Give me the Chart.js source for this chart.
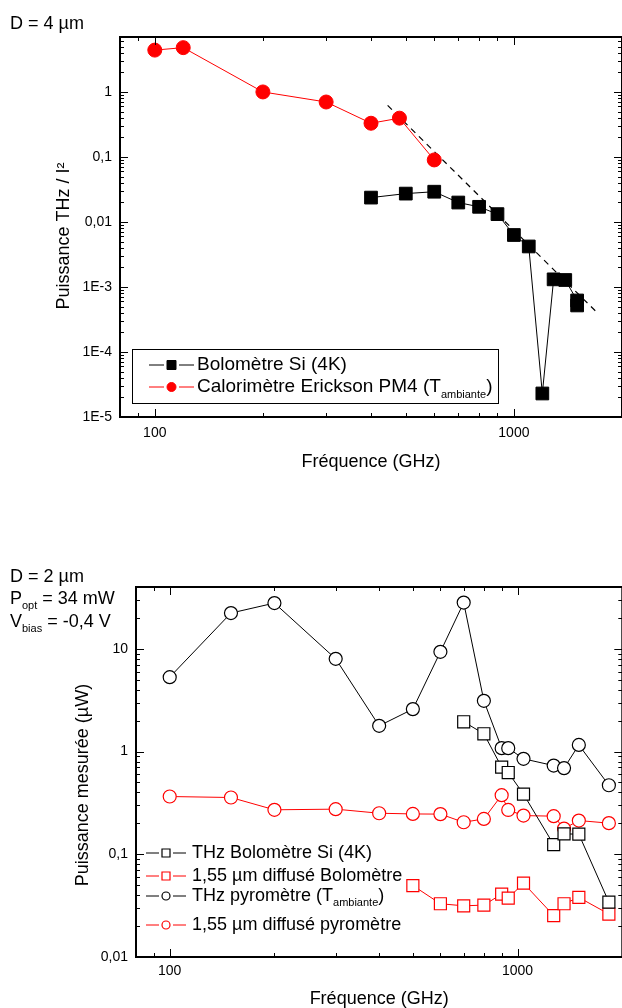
<!DOCTYPE html>
<html>
<head>
<meta charset="utf-8">
<script src="https://cdn.jsdelivr.net/npm/chart.js@4/dist/chart.umd.min.js"></script>
<style>
  html, body { margin: 0; padding: 0; width: 622px; height: 1008px; overflow: hidden; background: #fff; }
  canvas { position: absolute; left: 0; }
  #topChart { top: 0; }
  #bottomChart { top: 500px; }
</style>
</head>
<body>
<canvas id="topChart" width="632" height="500"></canvas>
<canvas id="bottomChart" width="632" height="508"></canvas>
<script>
const FONT = '"Liberation Sans", Arial, sans-serif';

// ---- top chart (D = 4 µm) ----
const bolo4kFreq  = [400, 500, 600, 700, 800, 900, 1000, 1100, 1200, 1290, 1390, 1500, 1500];
const bolo4kPower = [0.0237, 0.0273, 0.0292, 0.0199, 0.0171, 0.0132, 0.0063, 0.0042, 0.000023, 0.00131, 0.00128, 0.00062, 0.00052];
const caloFreq  = [100, 120, 200, 300, 400, 480, 600];
const caloPower = [4.4, 4.8, 1.0, 0.70, 0.33, 0.395, 0.09];
const fitFreq  = [445, 1700];
const fitPower = [0.62, 0.00041];
const topYTicks  = [1e-5, 1e-4, 1e-3, 0.01, 0.1, 1];
const topYLabels = ['1E-5', '1E-4', '1E-3', '0,01', '0,1', '1'];

// ---- bottom chart (D = 2 µm) ----
const mesFreq = [100, 150, 200, 300, 400, 500, 600, 700, 800, 900, 940, 1040, 1270, 1360, 1500, 1830];
const thzPyro = [5.3, 22.3, 27.9, 8.0, 1.78, 2.59, 9.35, 28.2, 3.12, 1.08, 1.08, 0.85, 0.73, 0.69, 1.16, 0.47];
const irPyro  = [0.365, 0.357, 0.271, 0.275, 0.251, 0.247, 0.246, 0.205, 0.221, 0.376, 0.27, 0.238, 0.235, 0.178, 0.213, 0.201];
const boloFreq = [700, 800, 900, 940, 1040, 1270, 1360, 1500, 1830];
const thzBolo  = [1.95, 1.49, 0.705, 0.625, 0.385, 0.124, 0.158, 0.157, 0.0342];
const irBoloFreq = [500, 600, 700, 800, 900, 940, 1040, 1270, 1360, 1500, 1830];
const irBolo     = [0.0496, 0.033, 0.0315, 0.032, 0.041, 0.0374, 0.0523, 0.0253, 0.033, 0.038, 0.0262];
const bottomYTicks  = [0.01, 0.1, 1, 10];
const bottomYLabels = ['0,01', '0,1', '1', '10'];

const freqTicks  = [100, 1000];
const freqLabels = ['100', '1000'];

function points(xs, ys) {
  return xs.map((x, i) => ({ x: x, y: ys[i] }));
}

function labelFor(v, ticks, labels) {
  const i = ticks.findIndex(t => Math.abs(v / t - 1) < 1e-6);
  return i < 0 ? '' : labels[i];
}

// text with _{sub} parts
function drawRich(ctx, text, x, y, size) {
  const parts = text.split(/_\{([^}]*)\}/);
  ctx.textBaseline = 'middle';
  ctx.textAlign = 'left';
  let cx = x;
  parts.forEach((p, i) => {
    if (!p) return;
    if (i % 2) {
      ctx.font = Math.round(size * 0.6) + 'px ' + FONT;
      ctx.fillText(p, cx, y + size * 0.4);
    } else {
      ctx.font = size + 'px ' + FONT;
      ctx.fillText(p, cx, y);
    }
    cx += ctx.measureText(p).width;
  });
}

function drawMarker(ctx, ds, x, y, r) {
  ctx.fillStyle = ds.pointBackgroundColor;
  ctx.strokeStyle = ds.borderColor;
  ctx.lineWidth = ds.pointBorderWidth;
  ctx.beginPath();
  if (ds.pointStyle === 'rect') ctx.rect(x - r, y - r, 2 * r, 2 * r);
  else ctx.arc(x, y, r, 0, Math.PI * 2);
  ctx.fill();
  ctx.stroke();
}

// frame with inward ticks, custom legend and notes (Origin look)
function makeDecor(cfg) {
  return {
    id: 'decor',
    afterDraw(chart) {
      const { ctx, chartArea: a, scales } = chart;
      const lg = Math.log10;
      const isMajor = v => Math.abs(lg(v) - Math.round(lg(v))) < 1e-6;
      const isWhole = v => {
        const s = v / Math.pow(10, Math.floor(lg(v) + 1e-9));
        return Math.abs(s - Math.round(s)) < 1e-6;
      };
      ctx.save();
      ctx.strokeStyle = '#000';
      ctx.lineWidth = 1;
      ctx.beginPath();
      scales.x.ticks.forEach(t => {
        if (!isWhole(t.value)) return;
        const px = Math.round(scales.x.getPixelForValue(t.value)) + 0.5;
        const len = isMajor(t.value) ? 8 : 4;
        ctx.moveTo(px, a.bottom); ctx.lineTo(px, a.bottom - len);
        ctx.moveTo(px, a.top); ctx.lineTo(px, a.top + len);
      });
      scales.y.ticks.forEach(t => {
        if (!isWhole(t.value)) return;
        const py = Math.round(scales.y.getPixelForValue(t.value)) + 0.5;
        const len = isMajor(t.value) ? 8 : 4;
        ctx.moveTo(a.left, py); ctx.lineTo(a.left + len, py);
        ctx.moveTo(a.right, py); ctx.lineTo(a.right - len, py);
      });
      ctx.stroke();
      ctx.lineWidth = 2;
      ctx.strokeRect(a.left, a.top, a.right - a.left, a.bottom - a.top);

      // legend
      const L = cfg.legend;
      if (L.box) {
        ctx.fillStyle = '#fff';
        ctx.lineWidth = 1;
        ctx.fillRect(L.box[0], L.box[1], L.box[2] - L.box[0], L.box[3] - L.box[1]);
        ctx.strokeRect(L.box[0] + 0.5, L.box[1] + 0.5, L.box[2] - L.box[0], L.box[3] - L.box[1]);
      }
      L.order.forEach((di, k) => {
        const ds = chart.data.datasets[di];
        const y = L.rows[k];
        const mx = (L.line[0] + L.line[1]) / 2;
        ctx.strokeStyle = ds.borderColor;
        ctx.lineWidth = 1;
        ctx.beginPath();
        ctx.moveTo(L.line[0], y); ctx.lineTo(mx - L.r - 3, y);
        ctx.moveTo(mx + L.r + 3, y); ctx.lineTo(L.line[1], y);
        ctx.stroke();
        drawMarker(ctx, ds, mx, y, L.r);
        ctx.fillStyle = '#000';
        drawRich(ctx, ds.label, L.textX, y, L.size);
      });

      // notes and rotated y title
      ctx.fillStyle = '#000';
      cfg.notes.forEach(n => drawRich(ctx, n.text, n.x, n.y, 18));
      const t = cfg.yTitle;
      ctx.translate(t.x, t.y);
      ctx.rotate(-Math.PI / 2);
      ctx.font = '18px ' + FONT;
      ctx.textAlign = 'center';
      ctx.textBaseline = 'middle';
      ctx.fillText(t.text, 0, 0);
      ctx.restore();
    }
  };
}

function axes(yMin, yMax, yTicks, yLabels, yWidth, xHeight, xPad, titlePad) {
  return {
    x: {
      type: 'logarithmic', min: 80, max: 2000,
      grid: { display: false, drawTicks: false },
      border: { display: false },
      ticks: {
        autoSkip: false, maxRotation: 0, padding: xPad, color: '#000',
        font: { family: FONT, size: 14 },
        callback: v => labelFor(v, freqTicks, freqLabels)
      },
      title: {
        display: true, text: 'Fréquence (GHz)', color: '#000',
        font: { family: FONT, size: 18, lineHeight: 1 },
        padding: { top: 0, bottom: titlePad }
      },
      afterFit: s => { s.height = xHeight; }
    },
    y: {
      type: 'logarithmic', min: yMin, max: yMax,
      grid: { display: false, drawTicks: false },
      border: { display: false },
      ticks: {
        autoSkip: false, padding: 8, color: '#000',
        font: { family: FONT, size: 14 },
        callback: v => labelFor(v, yTicks, yLabels)
      },
      afterFit: s => { s.width = yWidth; }
    }
  };
}

const common = {
  responsive: false,
  animation: false,
  devicePixelRatio: 1,
  events: [],
  elements: { line: { tension: 0 } }
};

new Chart(document.getElementById('topChart'), {
  type: 'scatter',
  data: {
    datasets: [
      {
        label: 'Bolomètre Si (4K)', data: points(bolo4kFreq, bolo4kPower), showLine: true,
        borderColor: '#000', backgroundColor: '#000', pointBackgroundColor: '#000',
        borderWidth: 1, pointBorderWidth: 1, pointStyle: 'rect', pointRadius: 9
      },
      {
        label: 'Calorimètre Erickson PM4 (T_{ambiante})', data: points(caloFreq, caloPower), showLine: true,
        borderColor: '#ff0000', backgroundColor: '#ff0000', pointBackgroundColor: '#ff0000',
        borderWidth: 1, pointBorderWidth: 1, pointStyle: 'circle', pointRadius: 7
      },
      {
        label: 'fit', data: points(fitFreq, fitPower), showLine: true,
        borderColor: '#000', borderWidth: 1.2, borderDash: [6, 5], pointRadius: 0
      }
    ]
  },
  options: Object.assign({}, common, {
    layout: { padding: { top: 37, right: 6, bottom: 0, left: 0 } },
    scales: axes(1e-5, 7, topYTicks, topYLabels, 120, 83, 8, 29),
    plugins: { legend: { display: false }, tooltip: { enabled: false } }
  }),
  plugins: [makeDecor({
    legend: { box: [132, 349, 498, 403], order: [0, 1], rows: [365, 387], line: [149, 194], r: 4.5, textX: 197, size: 19 },
    notes: [{ text: 'D = 4 µm', x: 10, y: 24 }],
    yTitle: { text: 'Puissance THz / I²', x: 64, y: 236 }
  })]
});

new Chart(document.getElementById('bottomChart'), {
  type: 'scatter',
  data: {
    datasets: [
      {
        label: 'THz Bolomètre Si (4K)', data: points(boloFreq, thzBolo), showLine: true,
        borderColor: '#000', pointBackgroundColor: '#fff',
        borderWidth: 1, pointBorderWidth: 1.2, pointStyle: 'rect', pointRadius: 8.5
      },
      {
        label: '1,55 µm diffusé Bolomètre', data: points(irBoloFreq, irBolo), showLine: true,
        borderColor: '#ff0000', pointBackgroundColor: '#fff',
        borderWidth: 1, pointBorderWidth: 1.2, pointStyle: 'rect', pointRadius: 8.5
      },
      {
        label: 'THz pyromètre (T_{ambiante})', data: points(mesFreq, thzPyro), showLine: true,
        borderColor: '#000', pointBackgroundColor: '#fff',
        borderWidth: 1, pointBorderWidth: 1.2, pointStyle: 'circle', pointRadius: 6.5
      },
      {
        label: '1,55 µm diffusé pyromètre', data: points(mesFreq, irPyro), showLine: true,
        borderColor: '#ff0000', pointBackgroundColor: '#fff',
        borderWidth: 1, pointBorderWidth: 1.2, pointStyle: 'circle', pointRadius: 6.5
      }
    ]
  },
  options: Object.assign({}, common, {
    layout: { padding: { top: 87, right: 4, bottom: 0, left: 0 } },
    scales: axes(0.01, 40, bottomYTicks, bottomYLabels, 136, 51, 6, 0),
    plugins: { legend: { display: false }, tooltip: { enabled: false } }
  }),
  plugins: [makeDecor({
    legend: { box: null, order: [0, 1, 2, 3], rows: [353, 376, 396, 425], line: [146, 186], r: 4, textX: 192, size: 18 },
    notes: [
      { text: 'D = 2 µm', x: 10, y: 77 },
      { text: 'P_{opt} = 34 mW', x: 10, y: 99 },
      { text: 'V_{bias} = -0,4 V', x: 10, y: 122 }
    ],
    yTitle: { text: 'Puissance mesurée (µW)', x: 83, y: 285 }
  })]
});
</script>
</body>
</html>
